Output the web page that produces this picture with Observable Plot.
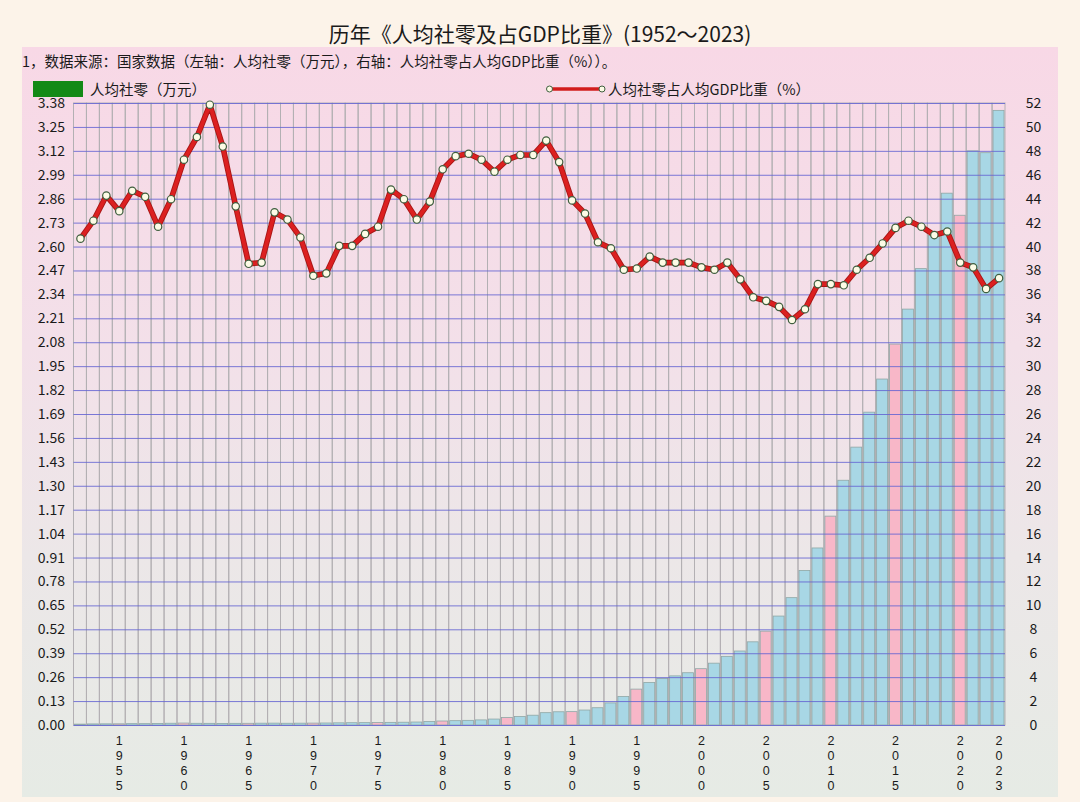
<!DOCTYPE html>
<html><head><meta charset="utf-8">
<script src="https://cdn.jsdelivr.net/npm/d3@7"></script>
<script src="https://cdn.jsdelivr.net/npm/@observablehq/plot@0.6"></script>
<style>
body{margin:0;background:#fcf3e9;font-family:"Noto Sans CJK SC","Noto Sans",sans-serif;color:#1a1a1a;}
#wrap{position:relative;width:1080px;height:802px;overflow:hidden;}
#title{position:absolute;left:0;width:1080px;top:18px;text-align:center;font-size:21px;line-height:30px;color:#1a1a1a;}
#panel{position:absolute;left:22px;top:47px;width:1036px;height:750px;background:linear-gradient(to bottom,#f8d8e6 0%,#f3e0e9 40%,#ece7e8 68%,#e6ebe5 100%);}
#sub{position:absolute;left:0;top:4px;font-size:14.5px;line-height:20px;white-space:nowrap;}
.leg{position:absolute;top:33px;font-size:14.5px;line-height:18px;white-space:nowrap;display:flex;align-items:center;}
#chart{position:absolute;left:0;top:38px;}
</style></head>
<body>
<div id="wrap">
  <div id="title">历年《人均社零及占GDP比重》(1952～2023)</div>
  <div id="panel">
    <div id="sub">1，数据来源：国家数据（左轴：人均社零（万元），右轴：人均社零占人均GDP比重（%））。</div>
    <div class="leg" style="left:11px;"><span style="display:inline-block;width:50px;height:16px;background:#138a16;margin-right:7px;"></span>人均社零（万元）</div>
    <div class="leg" style="left:523px;"><svg width="62" height="12" style="margin-right:1px;"><line x1="4" y1="6" x2="57" y2="6" stroke="#d21c1c" stroke-width="3.5"/><circle cx="4.5" cy="6" r="3" fill="#fdfbe6" stroke="#3f5f3f" stroke-width="1"/><circle cx="57" cy="6" r="3" fill="#fdfbe6" stroke="#3f5f3f" stroke-width="1"/></svg>人均社零占人均GDP比重（%）</div>
    <div id="chart"></div>
  </div>
</div>
<script>
const years = [1952,1953,1954,1955,1956,1957,1958,1959,1960,1961,1962,1963,1964,1965,1966,1967,1968,1969,1970,1971,1972,1973,1974,1975,1976,1977,1978,1979,1980,1981,1982,1983,1984,1985,1986,1987,1988,1989,1990,1991,1992,1993,1994,1995,1996,1997,1998,1999,2000,2001,2002,2003,2004,2005,2006,2007,2008,2009,2010,2011,2012,2013,2014,2015,2016,2017,2018,2019,2020,2021,2022,2023];
// 人均社零（万元）
const retail = [0.0048,0.0059,0.0063,0.0064,0.0073,0.0073,0.0083,0.0095,0.0105,0.0092,0.0090,0.0087,0.0090,0.0092,0.0098,0.0101,0.0094,0.0099,0.0103,0.0109,0.0117,0.0124,0.0128,0.0138,0.0143,0.0151,0.0162,0.0185,0.0217,0.0235,0.0253,0.0277,0.0323,0.0407,0.0460,0.0532,0.0670,0.0719,0.0726,0.0813,0.0938,0.120,0.155,0.195,0.231,0.253,0.267,0.284,0.306,0.336,0.373,0.402,0.452,0.510,0.592,0.692,0.840,0.962,1.135,1.33,1.51,1.70,1.88,2.07,2.26,2.48,2.66,2.89,2.77,3.12,3.11,3.34];
// 人均社零占人均GDP比重（%）
const ratio = [40.7,42.2,44.3,43.0,44.7,44.2,41.7,44.0,47.3,49.2,51.9,48.4,43.4,38.6,38.7,42.9,42.3,40.8,37.6,37.8,40.1,40.1,41.1,41.7,44.8,44.0,42.3,43.8,46.5,47.6,47.8,47.3,46.3,47.3,47.7,47.7,48.9,47.1,43.9,42.8,40.4,39.9,38.1,38.2,39.2,38.7,38.7,38.7,38.3,38.1,38.7,37.3,35.8,35.5,35.0,33.9,34.8,36.9,36.9,36.8,38.1,39.1,40.3,41.6,42.2,41.7,41.0,41.3,38.7,38.3,36.5,37.4];
const leftTicks = [0,0.13,0.26,0.39,0.52,0.65,0.78,0.91,1.04,1.17,1.30,1.43,1.56,1.69,1.82,1.95,2.08,2.21,2.34,2.47,2.60,2.73,2.86,2.99,3.12,3.25,3.38];
const rightTicks = [0,2,4,6,8,10,12,14,16,18,20,22,24,26,28,30,32,34,36,38,40,42,44,46,48,50,52];
const labelYears = [1955,1960,1965,1970,1975,1980,1985,1990,1995,2000,2005,2010,2015,2020,2023];

const leftMax = leftTicks[leftTicks.length-1];
const rightMax = rightTicks[rightTicks.length-1];
const k = leftMax / rightMax;

const rows = years.map((y,i) => ({year:y, retail:retail[i], ratio:ratio[i], ry: ratio[i]*k, hl: y % 5 === 0}));

const chart = Plot.plot({
  width: 1036,
  height: 712,
  marginLeft: 51.5,
  marginRight: 53,
  marginTop: 18,
  marginBottom: 72,
  style: {background: "transparent", fontFamily: "'Noto Sans CJK SC','Noto Sans',sans-serif", color: "#1a1a1a", overflow: "visible"},
  x: {type: "band", domain: years, padding: 0},
  y: {domain: [0, leftMax], nice: false},
  marks: [
    Plot.barY(years, {x: d => d, y1: 0, y2: leftMax, fill: "none", stroke: "#b3b0b3", strokeWidth: 1}),
    Plot.barY(rows, {x: "year", y: "retail", fill: d => d.hl ? "#f8b7c8" : "#a8d7e5", stroke: "#8fa7a6", strokeWidth: 0.8, insetLeft: 1, insetRight: 1}),
    Plot.ruleY(leftTicks, {stroke: "#6464d2", strokeWidth: 1, strokeOpacity: 0.85}),
    Plot.line(rows, {x: "year", y: "ry", stroke: "#a81616", strokeWidth: 5.6, curve: "linear"}),
    Plot.line(rows, {x: "year", y: "ry", stroke: "#dc2020", strokeWidth: 3.8, curve: "linear"}),
    Plot.dot(rows, {x: "year", y: "ry", r: 3.7, fill: "#fdfbe6", stroke: "#3f5f3f", strokeWidth: 1.2}),
    Plot.axisY(leftTicks, {anchor: "left", tickSize: 0, tickPadding: 9, tickFormat: d => d.toFixed(2), fontSize: 14, label: null}),
    Plot.axisY(rightTicks.map(v => v * k), {anchor: "right", tickSize: 0, tickPadding: 28, textAnchor: "middle", tickFormat: d => String(Math.round(d / k)), fontSize: 14, label: null}),
    Plot.axisX(labelYears, {anchor: "bottom", tickSize: 0, tickPadding: 9, lineHeight: 1.19, tickFormat: d => String(d).split("").join("\n"), fontSize: 12.5, fontFamily: "'Liberation Sans', Arial, sans-serif", label: null})
  ]
});
document.getElementById("chart").appendChild(chart);
</script>
</body></html>
